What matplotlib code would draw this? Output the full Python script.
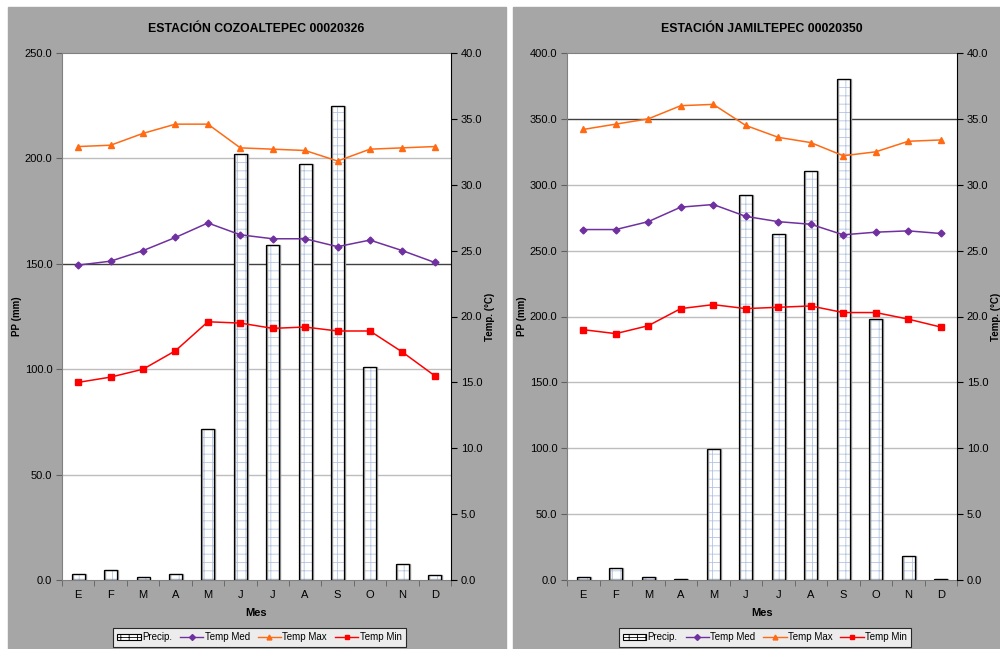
import matplotlib.pyplot as plt
from matplotlib.patches import Rectangle, Patch
from matplotlib.lines import Line2D
import numpy as np

plt.rcParams['font.family'] = ['Liberation Sans', 'DejaVu Sans']
plt.rcParams['hatch.linewidth'] = 0.6

meses = ['E', 'F', 'M', 'A', 'M', 'J', 'J', 'A', 'S', 'O', 'N', 'D']

# Cozoaltepec 00020326
titulo_1 = 'ESTACIÓN COZOALTEPEC 00020326'
precip_1 = [3.0, 4.8, 1.6, 2.9, 71.6, 202.0, 158.8, 197.2, 224.7, 101.0, 7.4, 2.4]
tmed_1 = [23.9, 24.2, 25.0, 26.0, 27.1, 26.2, 25.9, 25.9, 25.3, 25.8, 25.0, 24.1]
tmax_1 = [32.9, 33.0, 33.9, 34.6, 34.6, 32.8, 32.7, 32.6, 31.8, 32.7, 32.8, 32.9]
tmin_1 = [15.0, 15.4, 16.0, 17.4, 19.6, 19.5, 19.1, 19.2, 18.9, 18.9, 17.3, 15.5]

# Jamiltepec 00020350
titulo_2 = 'ESTACIÓN JAMILTEPEC 00020350'
precip_2 = [2.5, 8.9, 2.5, 1.0, 99.6, 292.2, 262.4, 310.4, 380.3, 198.0, 18.2, 0.5]
tmed_2 = [26.6, 26.6, 27.2, 28.3, 28.5, 27.6, 27.2, 27.0, 26.2, 26.4, 26.5, 26.3]
tmax_2 = [34.2, 34.6, 35.0, 36.0, 36.1, 34.5, 33.6, 33.2, 32.2, 32.5, 33.3, 33.4]
tmin_2 = [19.0, 18.7, 19.3, 20.6, 20.9, 20.6, 20.7, 20.8, 20.3, 20.3, 19.8, 19.2]

W, H = 1000, 649
fig = plt.figure(figsize=(10, 6.49), dpi=100)
fig.patch.set_facecolor('white')

# grey chart backgrounds
fig.patches.append(Rectangle((8 / W, 0), (506 - 8) / W, (H - 7) / H,
                             transform=fig.transFigure, color='#a6a6a6', zorder=-10))
fig.patches.append(Rectangle((513 / W, 0), (1000 - 513) / W, (H - 7) / H,
                             transform=fig.transFigure, color='#a6a6a6', zorder=-10))


def panel(x0, x1, titulo, pp, tmed, tmax, tmin, ymax, dark_line):
    ax = fig.add_axes([x0 / W, 1 - 580 / H, (x1 - x0) / W, (580 - 53) / H])
    ax.set_facecolor('white')
    x = np.arange(len(meses))

    # gridlines
    for v in np.arange(50, ymax, 50):
        c = '#404040' if v == dark_line else '#bdbdbd'
        ax.axhline(v, color=c, lw=1.0, zorder=1)

    # bars: hatch fill, grey shadow, black outline
    ax.bar(x, pp, width=0.4, color='white', edgecolor='#b3c5e2', hatch='++',
           lw=0, zorder=2)
    ax.bar(x + 0.03, pp, width=0.4, fill=False, edgecolor='#9a9a9a', lw=1.0, zorder=2)
    ax.bar(x, pp, width=0.4, fill=False, edgecolor='black', lw=0.9, zorder=3)

    ax.set_xlim(-0.5, 11.5)
    ax.set_ylim(0, ymax)
    ax.set_yticks(np.arange(0, ymax + 1, 50))
    ax.set_yticklabels(['%.1f' % v for v in np.arange(0, ymax + 1, 50)])
    ax.set_xticks(x)
    ax.set_xticklabels(meses)
    ax.set_xticks(np.arange(-0.5, 12, 1), minor=True)
    ax.tick_params(axis='x', which='major', length=0, pad=7, labelsize=8)
    ax.tick_params(axis='x', which='minor', length=4, color='#606060')
    ax.tick_params(axis='y', length=4, color='#606060', labelsize=8, pad=3)
    for s in ['left', 'top', 'bottom']:
        ax.spines[s].set_color('#808080')
    ax.spines['right'].set_visible(False)
    ax.set_ylabel('PP (mm)', fontsize=7, fontweight='bold', labelpad=2)
    ax.set_xlabel('Mes', fontsize=8, fontweight='bold', labelpad=6)
    ax.set_title(titulo, fontsize=8.8, fontweight='bold', pad=15)

    ax2 = ax.twinx()
    ax2.plot(x, tmed, color='#7030a0', marker='D', ms=3.5, lw=1.1, zorder=4)
    ax2.plot(x, tmax, color='#ff6a13', marker='^', ms=5, lw=1.1, zorder=4)
    ax2.plot(x, tmin, color='#ff0000', marker='s', ms=5, lw=1.1, zorder=4)
    ax2.set_ylim(0, 40)
    ax2.set_yticks(np.arange(0, 41, 5))
    ax2.set_yticklabels(['%.1f' % v for v in np.arange(0, 41, 5)])
    ax2.tick_params(axis='y', length=4, labelsize=8, pad=3)
    ax2.spines['right'].set_color('black')
    for s in ['left', 'top', 'bottom']:
        ax2.spines[s].set_visible(False)
    ax2.set_ylabel('Temp. (°C)', fontsize=7, fontweight='bold', labelpad=2)

    handles = [
        Patch(facecolor='white', edgecolor='black', hatch='++', lw=0.8),
        Line2D([], [], color='#7030a0', marker='D', ms=3, lw=1),
        Line2D([], [], color='#ff6a13', marker='^', ms=3.5, lw=1),
        Line2D([], [], color='#ff0000', marker='s', ms=3.5, lw=1),
    ]
    leg = fig.legend(handles, ['Precip.', 'Temp Med', 'Temp Max', 'Temp Min'],
                     loc='lower center', bbox_to_anchor=((x0 + x1) / 2 / W + 0.003, -0.004),
                     ncol=4, fontsize=7, frameon=True, fancybox=False,
                     handlelength=2.4, handletextpad=0.15, columnspacing=0.8,
                     borderpad=0.45)
    leg.get_frame().set_edgecolor('black')
    leg.get_frame().set_linewidth(0.8)


panel(62, 451, titulo_1, precip_1, tmed_1, tmax_1, tmin_1, 250, 150)
panel(567, 957, titulo_2, precip_2, tmed_2, tmax_2, tmin_2, 400, 350)

fig.savefig('out.png', dpi=100, facecolor='white')
